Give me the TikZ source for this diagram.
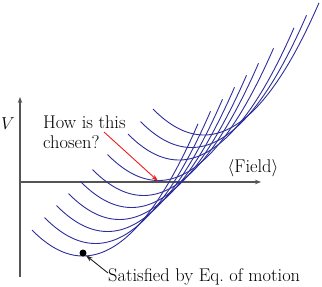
\documentclass[tikz,border=0pt]{standalone}
\usetikzlibrary{arrows.meta}
\definecolor{curveblue}{RGB}{45,45,155}
\definecolor{axisgray}{RGB}{85,85,85}
\definecolor{arrowred}{RGB}{235,30,30}
\begin{document}
\begin{tikzpicture}[x=1pt,y=-1pt,
  axisline/.style={draw=axisgray,line width=1.1pt,-{Stealth[length=6pt,width=4.5pt]}},
  pot/.style={draw=curveblue,line width=0.9pt},
  lbl/.style={inner sep=0pt,font=\fontsize{18.4}{19.5}\selectfont},
  redarr/.style={draw=arrowred,line width=0.9pt,-{Stealth[length=7pt,width=4.5pt]}},
  blkarr/.style={draw=black!85,line width=0.9pt,-{Stealth[length=7pt,width=4.5pt]}}]
\useasboundingbox (0,0) rectangle (322,287);
% axes
\coordinate (o) at (20,182);
\coordinate (ybot) at (20,277);
\coordinate (ytop) at (20,97);
\coordinate (xend) at (261,182);
\draw[axisline] (ybot) -- (ytop);
\draw[axisline] (o) -- (xend);
% potential curves
\foreach \k in {0,12.5,24.5,36.5,48.5,60.5,75.5,96,108.5,121}{
  \draw[pot] plot[domain=0:166,samples=70,smooth] ({32+\k+\x},{256-\k-0.01*(\x-51)^2});
}
% labels
\node[lbl] (V) at (8,124) {$V$};
\node[lbl] (field) at (253,168) {$\langle$Field$\rangle$};
\node[lbl,align=left,anchor=west] (q) at (43,132) {How is this\\chosen?};
\node[lbl,anchor=west] (sat) at (108,277) {Satisfied by Eq.\ of motion};
% points
\coordinate (redstart) at (104,132);
\coordinate (minpt) at (158,181);
\node[circle,fill=black,inner sep=0pt,minimum size=7pt] (dot) at (83,253) {};
\coordinate (blkstart) at (108,273);
\draw[redarr] (redstart) -- (minpt);
\draw[blkarr] (blkstart) -- (dot);
\end{tikzpicture}
\end{document}
